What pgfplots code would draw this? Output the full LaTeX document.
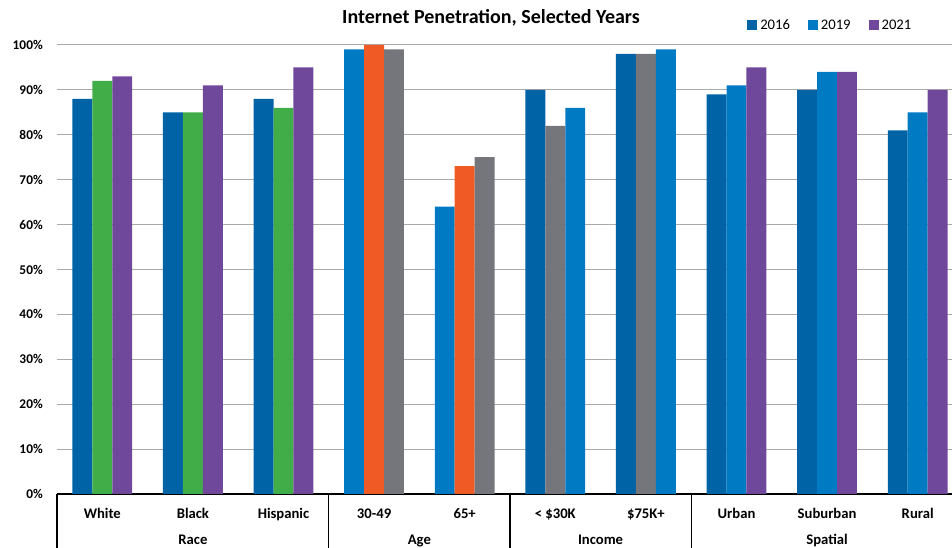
\documentclass[border=0pt]{standalone}
\usepackage{pgfplots}
\pgfplotsset{compat=1.18}
\usepackage{fontspec}
\setmainfont{Carlito}
\definecolor{cdb}{RGB}{0,99,166}
\definecolor{cbl}{RGB}{0,122,194}
\definecolor{cpu}{RGB}{112,72,155}
\definecolor{cgr}{RGB}{65,173,73}
\definecolor{cor}{RGB}{240,90,36}
\definecolor{cgy}{RGB}{117,118,123}
\definecolor{cgrid}{RGB}{170,170,170}
\begin{document}
\begin{tikzpicture}
\begin{axis}[
  at={(42.75pt,40.5pt)}, anchor=south west,
  scale only axis, width=671.25pt, height=336.75pt,
  xmin=-0.5, xmax=9.379, ymin=0, ymax=100,
  ybar, bar width=0.22,
  clip=false,
  axis x line*=bottom, axis y line*=left,
  x axis line style={black, line width=0.8pt, -},
  y axis line style={draw=none},
  major tick length=0pt,
  ytick={0,10,...,100},
  ymajorgrids, grid style={cgrid, line width=0.75pt},
  xtick={0,...,9},
  xticklabels={White,Black,Hispanic,30-49,65+,{< \$30K},{\$75K+},Urban,Suburban,Rural},
  xticklabel style={anchor=base, inner sep=0pt, yshift=-18.75pt, font=\fontsize{11}{13}\selectfont\bfseries},
  yticklabel={\pgfmathprintnumber{\tick}\%},
  /pgf/number format/assume math mode=true,
  yticklabel style={anchor=east, inner sep=0pt, xshift=-10.5pt, font=\fontsize{10}{12}\selectfont\bfseries},
  legend columns=3,
  legend style={draw=none, fill=none, at={(0.771,1.043)}, anchor=west, inner sep=0pt,
    font=\fontsize{11}{13}\selectfont, nodes={inner sep=0pt},
    /tikz/every odd column/.style={column sep=2.5pt},
    /tikz/every even column/.style={column sep=13.5pt}},
]
% position 1
\addplot[fill=cdb, draw=none, bar shift=-0.22, forget plot] coordinates {(0,88) (1,85) (2,88) (5,90) (6,98) (7,89) (8,90) (9,81)};
\addplot[fill=cbl, draw=none, bar shift=-0.22, forget plot] coordinates {(3,99) (4,64)};
% position 2
\addplot[fill=cgr, draw=none, bar shift=0, forget plot] coordinates {(0,92) (1,85) (2,86)};
\addplot[fill=cor, draw=none, bar shift=0, forget plot] coordinates {(3,100) (4,73)};
\addplot[fill=cgy, draw=none, bar shift=0, forget plot] coordinates {(5,82) (6,98)};
\addplot[fill=cbl, draw=none, bar shift=0, forget plot] coordinates {(7,91) (8,94) (9,85)};
% position 3
\addplot[fill=cpu, draw=none, bar shift=0.22, forget plot] coordinates {(0,93) (1,91) (2,95) (7,95) (8,94) (9,90)};
\addplot[fill=cgy, draw=none, bar shift=0.22, forget plot] coordinates {(3,99) (4,75)};
\addplot[fill=cbl, draw=none, bar shift=0.22, forget plot] coordinates {(5,86) (6,99)};
% legend
\addlegendimage{legend image code/.code={\fill[cdb] (0pt,-2.8pt) rectangle (6.8pt,4.0pt);}}
\addlegendentry{2016}
\addlegendimage{legend image code/.code={\fill[cbl] (0pt,-2.8pt) rectangle (6.8pt,4.0pt);}}
\addlegendentry{2019}
\addlegendimage{legend image code/.code={\fill[cpu] (0pt,-2.8pt) rectangle (6.8pt,4.0pt);}}
\addlegendentry{2021}
% group separators
\draw[black, line width=0.8pt] (axis cs:-0.5,0) -- ++(0pt,-45pt);
\draw[black, line width=0.8pt] (axis cs:2.5,0) -- ++(0pt,-45pt);
\draw[black, line width=0.8pt] (axis cs:4.5,0) -- ++(0pt,-45pt);
\draw[black, line width=0.8pt] (axis cs:6.5,0) -- ++(0pt,-45pt);
\node[anchor=base, inner sep=0pt, yshift=-38pt, font=\fontsize{11}{13}\selectfont\bfseries] at (axis cs:1,0) {Race};
\node[anchor=base, inner sep=0pt, yshift=-38pt, font=\fontsize{11}{13}\selectfont\bfseries] at (axis cs:3.5,0) {Age};
\node[anchor=base, inner sep=0pt, yshift=-38pt, font=\fontsize{11}{13}\selectfont\bfseries] at (axis cs:5.5,0) {Income};
\node[anchor=base, inner sep=0pt, yshift=-38pt, font=\fontsize{11}{13}\selectfont\bfseries] at (axis cs:8,0) {Spatial};
\end{axis}
\node[anchor=base, inner sep=0pt, font=\fontsize{15}{18}\selectfont\bfseries] at (368.25pt,393pt) {Internet Penetration, Selected Years};
\pgfresetboundingbox
\path[use as bounding box] (0pt,0pt) rectangle (714pt,411pt);
\end{tikzpicture}
\end{document}
